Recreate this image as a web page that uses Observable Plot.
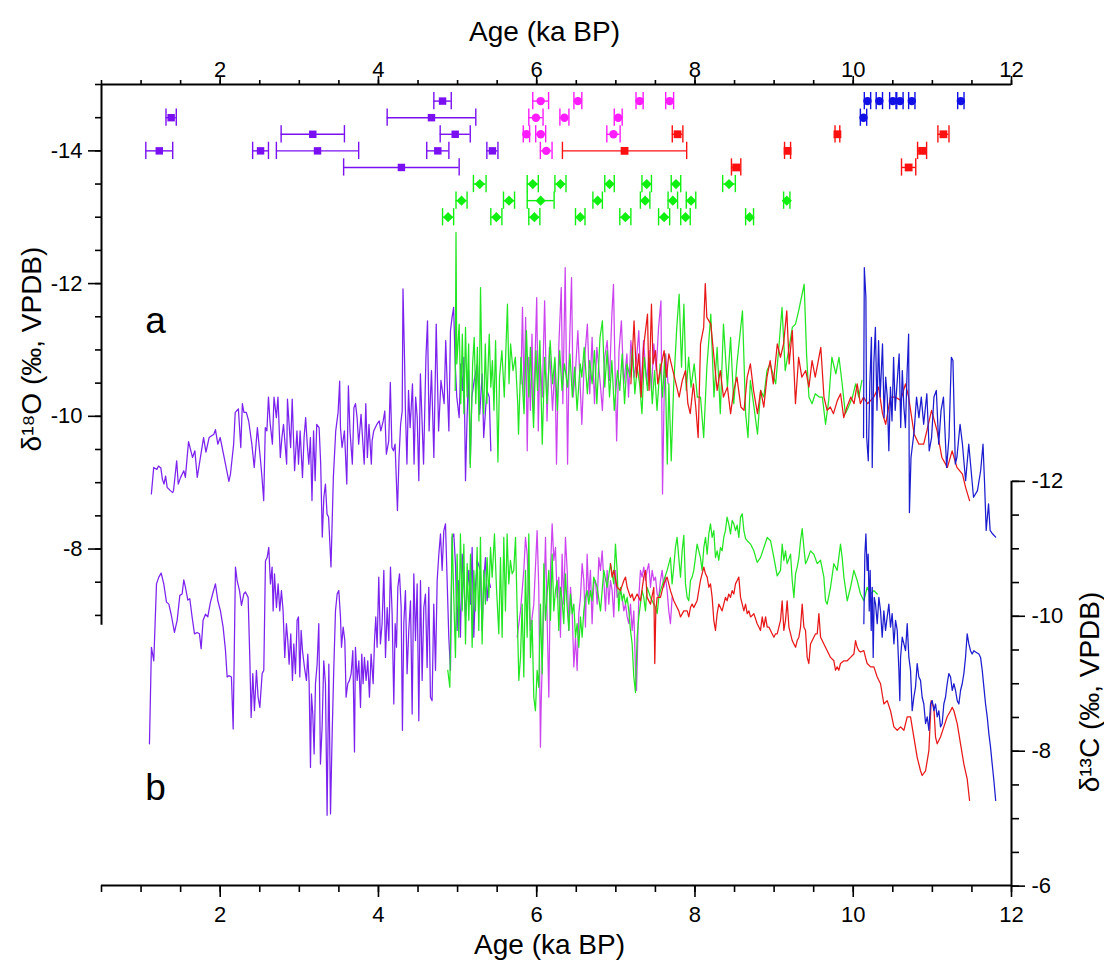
<!DOCTYPE html>
<html><head><meta charset="utf-8">
<script src="https://cdn.jsdelivr.net/npm/d3@7"></script>
<script src="https://cdn.jsdelivr.net/npm/@observablehq/plot@0.6"></script>
<style>body{margin:0;background:#fff;}</style>
</head><body><div id="chart"></div>
<script>
// ---------- tick values ----------
const X_TICKS = [2, 4, 6, 8, 10, 12];
const X_MINOR = [0.5,1,1.5,2,2.5,3,3.5,4,4.5,5,5.5,6,6.5,7,7.5,8,8.5,9,9.5,10,10.5,11,11.5,12];
const O18_TICKS = [-14, -12, -10, -8];
const O18_MINOR = [-15,-14.5,-14,-13.5,-13,-12.5,-12,-11.5,-11,-10.5,-10,-9.5,-9,-8.5,-8,-7.5,-7];
const C13_TICKS = [-12, -10, -8, -6];
const C13_MINOR = [-12,-11.5,-11,-10.5,-10,-9.5,-9,-8.5,-8,-7.5,-7,-6.5,-6];

// ---------- U-Th dates: [age ka, ±err ka, row (plotted on δ18O axis)] ----------
const datesPurple = [[4.81,0.11,-14.75],[1.38,0.065,-14.5],[4.67,0.56,-14.5],[3.17,0.40,-14.25],[4.97,0.19,-14.25],
  [1.23,0.17,-14],[2.51,0.10,-14],[3.23,0.52,-14],[4.75,0.14,-14],[5.44,0.07,-14],[4.29,0.73,-13.75]];
const datesMagenta = [[6.05,0.10,-14.75],[6.52,0.05,-14.75],[7.30,0.045,-14.75],[7.68,0.05,-14.75],
  [5.99,0.09,-14.5],[6.35,0.057,-14.5],[7.03,0.05,-14.5],[5.87,0.04,-14.25],[6.05,0.063,-14.25],[6.97,0.084,-14.25],[6.12,0.074,-14]];
const datesRed = [[7.78,0.067,-14.25],[7.11,0.785,-14],[8.52,0.059,-13.75],[9.17,0.038,-14],[9.80,0.03,-14.25],
  [11.14,0.07,-14.25],[10.87,0.057,-14],[10.70,0.09,-13.75]];
const datesBlue = [[10.18,0.04,-14.75],[10.33,0.04,-14.75],[10.50,0.04,-14.75],[10.59,0.04,-14.75],[10.74,0.04,-14.75],
  [11.36,0.04,-14.75],[10.13,0.04,-14.5]];
const datesGreen = [[5.28,0.08,-13.5],[5.95,0.07,-13.5],[6.30,0.07,-13.5],[6.92,0.06,-13.5],[7.39,0.06,-13.5],[7.76,0.06,-13.5],[8.43,0.08,-13.5],
  [5.05,0.07,-13.25],[5.65,0.07,-13.25],[6.05,0.17,-13.25],[6.77,0.06,-13.25],[7.37,0.06,-13.25],[7.72,0.06,-13.25],[7.95,0.06,-13.25],[9.16,0.04,-13.25],
  [4.88,0.07,-13],[5.49,0.07,-13],[5.97,0.07,-13],[6.55,0.06,-13],[7.12,0.07,-13],[7.61,0.07,-13],[7.88,0.06,-13],[8.69,0.05,-13]];

// ---------- δ18O records: [age ka, δ18O] ----------
const o18Purple = [[1.13,-8.83],[1.16,-9.23],[1.20,-9.20],[1.22,-9.25],[1.25,-9.22],[1.27,-9.05],[1.29,-8.98],[1.31,-9.10],[1.33,-8.93],[1.37,-8.88],[1.40,-8.85],[1.41,-8.88],[1.45,-9.33],[1.47,-8.98],[1.50,-9.08],[1.54,-9.18],[1.56,-9.08],[1.60,-9.62],[1.65,-9.38],[1.68,-9.48],[1.71,-9.08],[1.75,-9.38],[1.79,-9.68],[1.82,-9.46],[1.86,-9.68],[1.92,-9.73],[1.94,-9.80],[1.97,-9.58],[2.00,-9.68],[2.05,-9.38],[2.11,-9.02],[2.13,-9.13],[2.17,-9.58],[2.19,-10.06],[2.23,-10.11],[2.26,-9.53],[2.28,-10.19],[2.30,-10.06],[2.33,-10.06],[2.36,-9.93],[2.40,-9.58],[2.43,-9.23],[2.47,-9.83],[2.51,-9.33],[2.53,-9.05],[2.55,-8.73],[2.57,-9.83],[2.59,-9.78],[2.61,-10.29],[2.63,-9.91],[2.66,-9.58],[2.68,-10.29],[2.71,-9.98],[2.73,-10.29],[2.76,-9.38],[2.78,-9.68],[2.80,-9.88],[2.84,-9.28],[2.85,-10.26],[2.89,-9.53],[2.91,-10.26],[2.94,-9.18],[2.97,-9.78],[2.99,-9.28],[3.01,-9.78],[3.04,-9.08],[3.06,-9.68],[3.08,-9.98],[3.10,-9.58],[3.12,-9.28],[3.14,-9.68],[3.16,-8.73],[3.18,-9.78],[3.20,-9.03],[3.22,-9.88],[3.25,-9.83],[3.27,-9.28],[3.29,-8.18],[3.31,-8.78],[3.33,-8.98],[3.35,-8.53],[3.37,-8.48],[3.40,-7.73],[3.43,-9.08],[3.46,-9.78],[3.49,-10.06],[3.51,-10.53],[3.52,-9.83],[3.54,-9.53],[3.57,-9.78],[3.60,-8.98],[3.62,-10.46],[3.64,-9.78],[3.67,-9.28],[3.69,-10.13],[3.71,-10.19],[3.73,-9.98],[3.75,-9.58],[3.78,-10.03],[3.82,-9.28],[3.84,-10.19],[3.86,-9.38],[3.88,-9.88],[3.91,-9.28],[3.92,-9.63],[3.94,-9.78],[3.98,-9.88],[4.01,-9.93],[4.03,-9.78],[4.06,-9.93],[4.08,-10.08],[4.10,-9.43],[4.13,-9.63],[4.15,-10.51],[4.17,-9.53],[4.19,-9.48],[4.21,-9.58],[4.24,-8.58],[4.26,-9.38],[4.28,-9.88],[4.30,-10.08],[4.31,-11.92],[4.33,-10.84],[4.34,-10.13],[4.36,-9.28],[4.38,-10.39],[4.40,-9.83],[4.43,-10.49],[4.45,-9.28],[4.47,-10.29],[4.49,-9.98],[4.51,-9.03],[4.53,-10.64],[4.57,-9.28],[4.60,-10.89],[4.62,-11.44],[4.64,-9.78],[4.67,-10.69],[4.70,-9.38],[4.73,-11.39],[4.76,-9.78],[4.79,-10.54],[4.83,-10.19],[4.85,-11.14],[4.87,-10.44],[4.89,-9.78],[4.91,-11.29],[4.93,-11.49],[4.95,-11.64],[4.97,-10.79],[4.99,-10.29],[5.02,-9.98],[5.04,-10.79],[5.06,-10.39],[5.08,-10.89],[5.10,-9.03],[5.12,-9.98],[5.14,-10.69],[5.16,-9.28],[5.18,-10.29],[5.21,-10.54],[5.25,-10.79],[5.28,-10.03],[5.31,-10.64],[5.33,-9.68],[5.37,-10.39],[5.40,-10.29],[5.42,-9.48]];

const o18Orchid = [[5.80,-10.49],[5.82,-11.64],[5.84,-10.29],[5.86,-11.49],[5.88,-9.48],[5.90,-10.89],[5.92,-10.09],[5.94,-11.24],[5.96,-10.04],[6.00,-11.79],[6.02,-9.78],[6.04,-10.94],[6.07,-10.29],[6.10,-11.74],[6.13,-9.93],[6.16,-11.04],[6.20,-10.09],[6.23,-10.79],[6.25,-9.28],[6.28,-11.09],[6.31,-11.94],[6.33,-10.19],[6.36,-12.24],[6.39,-9.28],[6.41,-10.89],[6.44,-12.09],[6.46,-10.29],[6.49,-10.69],[6.52,-11.29],[6.55,-10.44],[6.57,-9.88],[6.60,-10.79],[6.64,-11.39],[6.67,-10.34],[6.70,-11.19],[6.73,-10.19],[6.76,-11.04],[6.80,-10.54],[6.83,-10.09],[6.86,-10.89],[6.89,-11.14],[6.92,-10.54],[6.95,-11.54],[6.97,-11.99],[6.99,-10.69],[7.01,-9.63],[7.04,-10.99],[7.07,-11.44],[7.10,-10.49],[7.14,-10.94],[7.16,-10.29],[7.19,-11.14],[7.23,-10.59],[7.26,-10.84],[7.29,-11.29],[7.32,-10.39],[7.35,-11.14],[7.39,-10.49],[7.42,-10.99],[7.45,-10.39],[7.48,-11.09],[7.51,-10.69],[7.54,-11.34],[7.57,-11.74],[7.59,-8.83],[7.61,-10.29],[7.63,-10.94],[7.66,-10.49]];

const o18Green = [[4.97,-10.39],[4.98,-12.77],[4.99,-10.79],[5.02,-11.39],[5.04,-10.19],[5.06,-11.24],[5.08,-10.04],[5.10,-11.34],[5.12,-10.29],[5.14,-11.09],[5.16,-9.23],[5.19,-10.79],[5.21,-11.19],[5.23,-10.19],[5.25,-11.04],[5.27,-9.93],[5.29,-11.94],[5.31,-10.49],[5.33,-10.04],[5.35,-11.09],[5.37,-10.19],[5.40,-11.24],[5.42,-10.44],[5.44,-10.84],[5.46,-10.09],[5.48,-11.14],[5.51,-9.31],[5.53,-10.59],[5.56,-10.99],[5.59,-10.29],[5.63,-11.69],[5.65,-10.49],[5.67,-11.09],[5.70,-10.69],[5.73,-10.89],[5.76,-10.19],[5.77,-9.73],[5.80,-10.89],[5.84,-10.04],[5.87,-11.29],[5.90,-10.29],[5.92,-11.04],[5.96,-9.83],[5.99,-10.99],[6.01,-10.39],[6.04,-11.14],[6.07,-9.58],[6.10,-10.89],[6.13,-10.19],[6.17,-11.14],[6.20,-10.49],[6.23,-10.89],[6.26,-10.09],[6.29,-10.99],[6.32,-10.39],[6.35,-10.79],[6.39,-10.44],[6.42,-10.94],[6.45,-10.29],[6.48,-10.74],[6.51,-10.09],[6.55,-10.79],[6.57,-10.59],[6.60,-11.04],[6.64,-10.34],[6.67,-10.84],[6.70,-10.49],[6.73,-10.99],[6.76,-10.19],[6.80,-11.19],[6.83,-11.44],[6.86,-10.44],[6.89,-10.99],[6.92,-10.29],[6.95,-10.84],[6.98,-10.09],[7.02,-10.69],[7.05,-10.39],[7.08,-10.94],[7.11,-10.19],[7.14,-10.79],[7.18,-10.59],[7.21,-11.04],[7.24,-10.34],[7.27,-10.74],[7.30,-10.49],[7.33,-10.04],[7.36,-10.89],[7.40,-10.39],[7.43,-10.89],[7.46,-10.19],[7.49,-10.69],[7.52,-10.09],[7.56,-10.79],[7.59,-10.29],[7.62,-10.94],[7.65,-9.28],[7.67,-10.49],[7.70,-9.33],[7.73,-10.44],[7.77,-11.34],[7.80,-11.84],[7.83,-10.74],[7.86,-11.69],[7.89,-10.39],[7.92,-10.89],[7.95,-10.44],[7.99,-10.79],[8.03,-10.29],[8.07,-10.29],[8.11,-9.68],[8.15,-10.74],[8.20,-11.54],[8.24,-10.29],[8.28,-11.04],[8.32,-10.04],[8.36,-11.39],[8.41,-10.44],[8.45,-11.19],[8.49,-10.19],[8.53,-10.79],[8.60,-11.59],[8.64,-10.04],[8.67,-9.68],[8.70,-10.54],[8.74,-10.19],[8.79,-9.73],[8.83,-10.39],[8.87,-10.29],[8.91,-10.69],[8.95,-10.79],[9.02,-10.49],[9.06,-11.04],[9.10,-11.64],[9.14,-10.69],[9.19,-11.04],[9.23,-11.34],[9.27,-11.39],[9.31,-11.59],[9.38,-11.99],[9.41,-10.94],[9.44,-10.29],[9.48,-10.19],[9.52,-10.34],[9.57,-10.29],[9.61,-10.29],[9.65,-9.88],[9.69,-10.24],[9.73,-10.89],[9.78,-10.64],[9.82,-10.89],[9.86,-10.49],[9.90,-10.04],[9.94,-10.14],[9.99,-10.29],[10.03,-10.49],[10.07,-10.29],[10.11,-10.54]];

const o18Red = [[7.19,-10.49],[7.23,-11.44],[7.26,-10.59],[7.29,-10.94],[7.32,-10.29],[7.35,-11.04],[7.40,-11.54],[7.42,-10.39],[7.45,-11.69],[7.47,-10.79],[7.50,-10.99],[7.53,-10.49],[7.56,-10.69],[7.61,-10.99],[7.64,-10.59],[7.67,-10.94],[7.71,-10.74],[7.75,-10.54],[7.80,-10.29],[7.84,-10.54],[7.88,-10.69],[7.91,-10.19],[7.94,-10.04],[7.98,-10.49],[8.01,-10.14],[8.04,-9.68],[8.07,-11.09],[8.11,-11.34],[8.13,-12.0],[8.15,-11.49],[8.20,-11.39],[8.24,-10.89],[8.28,-10.39],[8.32,-10.69],[8.36,-10.29],[8.41,-10.44],[8.45,-10.04],[8.49,-10.39],[8.53,-10.59],[8.58,-10.14],[8.62,-10.09],[8.66,-10.59],[8.70,-10.79],[8.74,-10.39],[8.79,-10.04],[8.83,-10.39],[8.87,-10.14],[8.91,-10.59],[8.95,-10.84],[8.99,-10.49],[9.04,-11.09],[9.08,-10.89],[9.12,-11.09],[9.16,-11.59],[9.19,-10.79],[9.23,-11.29],[9.27,-10.19],[9.31,-10.89],[9.35,-10.59],[9.40,-10.69],[9.44,-10.44],[9.48,-10.84],[9.52,-10.59],[9.59,-11.04],[9.63,-10.29],[9.67,-10.09],[9.71,-10.14],[9.75,-10.04],[9.80,-10.24],[9.84,-10.34],[9.88,-9.98],[9.92,-10.14],[9.97,-10.29],[10.01,-10.19],[10.05,-10.49],[10.09,-10.19],[10.13,-10.29],[10.18,-10.19],[10.26,-10.29],[10.32,-10.44],[10.37,-10.04],[10.41,-9.88],[10.47,-10.29],[10.53,-10.29],[10.60,-10.24],[10.66,-10.49],[10.70,-10.29],[10.77,-9.73],[10.83,-9.58],[10.89,-9.58],[10.93,-9.78],[10.99,-10.09],[11.06,-9.78],[11.12,-9.38],[11.19,-9.23],[11.25,-9.48],[11.31,-9.23],[11.38,-9.13],[11.42,-8.93],[11.47,-8.73]];

const o18Blue = [[10.13,-9.68],[10.14,-12.24],[10.16,-11.79],[10.17,-9.68],[10.19,-9.33],[10.21,-10.49],[10.23,-11.19],[10.24,-9.23],[10.26,-10.79],[10.28,-11.34],[10.30,-10.09],[10.32,-11.14],[10.34,-10.29],[10.37,-11.09],[10.39,-9.98],[10.41,-10.59],[10.43,-10.29],[10.45,-9.48],[10.47,-10.44],[10.49,-9.93],[10.51,-10.89],[10.53,-10.09],[10.58,-10.94],[10.60,-9.83],[10.62,-10.69],[10.64,-10.14],[10.66,-9.83],[10.68,-10.64],[10.70,-11.24],[10.71,-8.55],[10.73,-9.38],[10.77,-9.78],[10.80,-10.29],[10.83,-9.98],[10.86,-10.29],[10.89,-9.88],[10.93,-10.34],[10.96,-9.48],[10.99,-9.68],[11.02,-10.29],[11.05,-10.39],[11.08,-9.58],[11.11,-10.09],[11.14,-10.29],[11.18,-9.23],[11.21,-9.68],[11.24,-10.89],[11.26,-10.84],[11.29,-9.28],[11.31,-9.38],[11.35,-9.88],[11.38,-9.58],[11.42,-9.03],[11.46,-9.58],[11.52,-8.78],[11.57,-8.88],[11.61,-9.18],[11.64,-9.58],[11.66,-8.98],[11.68,-8.28],[11.71,-8.68],[11.73,-8.28],[11.76,-8.23],[11.80,-8.18]];

// ---------- δ13C records: [age ka, δ13C] ----------
const c13Purple = [[1.106,-8.11],[1.131,-9.54],[1.161,-9.34],[1.195,-10.48],[1.224,-10.58],[1.254,-10.64],[1.287,-10.48],[1.321,-10.21],[1.351,-10.18],[1.380,-10.03],[1.422,-9.76],[1.456,-9.94],[1.490,-10.31],[1.519,-10.33],[1.540,-10.54],[1.561,-10.43],[1.591,-10.24],[1.616,-10.26],[1.645,-9.99],[1.675,-9.74],[1.709,-9.76],[1.738,-9.74],[1.759,-9.52],[1.784,-9.94],[1.814,-10.03],[1.843,-9.99],[1.877,-10.21],[1.911,-10.36],[1.940,-10.48],[1.970,-10.23],[2.003,-10.08],[2.037,-9.84],[2.067,-9.49],[2.088,-9.10],[2.109,-9.12],[2.142,-9.10],[2.164,-8.33],[2.193,-10.73],[2.214,-10.53],[2.244,-10.38],[2.269,-10.16],[2.298,-10.33],[2.319,-10.36],[2.353,-10.28],[2.374,-9.39],[2.391,-8.50],[2.412,-9.15],[2.433,-8.60],[2.458,-9.20],[2.479,-8.80],[2.501,-8.65],[2.530,-9.15],[2.551,-9.20],[2.572,-10.82],[2.593,-10.87],[2.614,-11.02],[2.635,-10.48],[2.656,-10.73],[2.669,-10.08],[2.686,-10.63],[2.711,-10.13],[2.732,-10.48],[2.753,-10.08],[2.774,-10.38],[2.795,-10.08],[2.816,-9.39],[2.837,-9.89],[2.854,-9.64],[2.871,-9.29],[2.892,-9.74],[2.913,-9.05],[2.930,-9.59],[2.951,-9.15],[2.972,-9.94],[2.989,-9.99],[3.006,-9.10],[3.023,-9.79],[3.040,-9.49],[3.065,-9.24],[3.090,-9.05],[3.107,-9.44],[3.124,-9.00],[3.141,-7.76],[3.153,-8.85],[3.170,-8.55],[3.187,-7.96],[3.204,-9.00],[3.225,-9.29],[3.246,-9.89],[3.267,-7.81],[3.288,-8.36],[3.309,-9.34],[3.330,-9.00],[3.351,-7.05],[3.373,-9.29],[3.394,-7.07],[3.415,-8.26],[3.436,-9.24],[3.457,-10.08],[3.478,-10.33],[3.499,-10.38],[3.520,-9.99],[3.533,-9.54],[3.554,-9.84],[3.575,-9.64],[3.591,-8.80],[3.612,-9.00],[3.634,-9.05],[3.655,-9.15],[3.676,-9.49],[3.697,-7.99],[3.709,-9.54],[3.731,-9.05],[3.752,-9.34],[3.773,-8.65],[3.789,-9.44],[3.806,-9.00],[3.823,-9.39],[3.844,-9.05],[3.865,-9.34],[3.886,-8.80],[3.907,-9.44],[3.933,-9.00],[3.950,-9.64],[3.966,-9.99],[3.983,-9.54],[4.004,-10.58],[4.025,-9.59],[4.046,-9.89],[4.068,-10.68],[4.089,-9.39],[4.110,-10.13],[4.131,-9.64],[4.152,-10.73],[4.173,-10.03],[4.194,-8.70],[4.211,-9.89],[4.228,-9.54],[4.245,-10.43],[4.266,-10.63],[4.287,-10.13],[4.303,-8.31],[4.320,-9.89],[4.341,-10.38],[4.362,-9.15],[4.383,-9.79],[4.405,-10.23],[4.426,-8.55],[4.447,-10.63],[4.468,-9.64],[4.489,-10.48],[4.510,-8.45],[4.531,-10.53],[4.552,-9.05],[4.573,-10.13],[4.594,-10.33],[4.615,-9.24],[4.636,-10.43],[4.657,-8.80],[4.678,-8.75],[4.699,-10.18],[4.721,-9.20],[4.742,-10.53],[4.763,-10.92],[4.784,-11.22],[4.805,-10.68],[4.826,-11.27],[4.847,-11.37],[4.868,-10.53],[4.889,-9.69],[4.910,-9.20],[4.931,-11.17],[4.952,-11.22],[4.973,-10.78],[4.994,-9.79],[5.015,-10.53],[5.036,-9.69],[5.058,-10.92],[5.079,-10.48],[5.100,-9.99],[5.121,-10.38],[5.142,-10.68],[5.163,-10.18],[5.184,-11.02],[5.205,-9.69],[5.226,-10.43],[5.247,-10.83],[5.289,-10.68],[5.310,-9.79],[5.331,-10.53],[5.352,-10.87],[5.373,-10.23],[5.395,-10.53],[5.416,-10.43]];

const c13Orchid = [[5.753,-9.69],[5.795,-10.08],[5.837,-10.68],[5.858,-11.17],[5.879,-10.92],[5.900,-10.33],[5.921,-9.79],[5.963,-10.18],[6.005,-11.27],[6.026,-10.43],[6.047,-8.06],[6.056,-8.70],[6.090,-10.18],[6.111,-11.17],[6.132,-9.94],[6.153,-8.80],[6.174,-10.68],[6.195,-11.37],[6.216,-10.83],[6.237,-11.02],[6.258,-10.28],[6.279,-10.58],[6.300,-9.69],[6.321,-10.92],[6.342,-10.18],[6.363,-11.17],[6.385,-10.68],[6.406,-9.79],[6.427,-10.43],[6.448,-10.08],[6.469,-9.25],[6.490,-9.69],[6.511,-9.20],[6.532,-10.04],[6.553,-10.28],[6.574,-10.78],[6.595,-10.53],[6.616,-9.84],[6.637,-10.92],[6.658,-10.28],[6.679,-10.68],[6.700,-9.89],[6.721,-10.48],[6.742,-10.53],[6.764,-10.18],[6.785,-10.87],[6.806,-10.68],[6.827,-10.97],[6.848,-10.53],[6.869,-10.08],[6.890,-10.68],[6.911,-10.18],[6.932,-10.53],[6.953,-10.38],[6.974,-9.99],[6.995,-10.68],[7.016,-10.28],[7.058,-10.38],[7.080,-10.28],[7.101,-10.08],[7.122,-10.18],[7.143,-9.99],[7.164,-9.89],[7.185,-10.18],[7.206,-9.79],[7.227,-10.08],[7.248,-9.20],[7.261,-8.90],[7.278,-9.69],[7.290,-10.28],[7.311,-10.68],[7.332,-10.58],[7.353,-10.73],[7.374,-10.53],[7.395,-10.68],[7.416,-10.78],[7.438,-10.43],[7.459,-10.68],[7.480,-10.53],[7.501,-10.58],[7.522,-10.33],[7.543,-10.28],[7.564,-10.53],[7.585,-10.68],[7.606,-10.43],[7.627,-10.58],[7.648,-10.38],[7.669,-10.08],[7.690,-9.89],[7.711,-10.28]];

const c13Green = [[4.876,-9.20],[4.902,-8.95],[4.931,-11.22],[4.952,-10.28],[4.973,-9.39],[4.994,-10.92],[5.015,-9.69],[5.036,-11.22],[5.058,-10.08],[5.079,-11.07],[5.100,-9.59],[5.121,-10.78],[5.142,-9.94],[5.163,-10.92],[5.184,-9.54],[5.205,-10.68],[5.226,-10.08],[5.247,-11.02],[5.268,-9.79],[5.289,-11.17],[5.310,-9.59],[5.331,-10.68],[5.352,-10.18],[5.373,-10.87],[5.395,-10.28],[5.416,-11.02],[5.437,-10.58],[5.466,-11.22],[5.491,-10.43],[5.521,-9.74],[5.542,-10.87],[5.563,-9.69],[5.584,-11.17],[5.605,-10.08],[5.626,-11.22],[5.647,-10.48],[5.668,-10.83],[5.689,-10.63],[5.710,-10.68],[5.732,-11.17],[5.753,-10.08],[5.774,-9.05],[5.795,-9.39],[5.816,-10.18],[5.837,-9.10],[5.858,-10.68],[5.879,-9.69],[5.900,-11.22],[5.921,-9.39],[5.942,-9.94],[5.963,-8.80],[5.984,-8.60],[6.005,-9.20],[6.026,-8.95],[6.047,-10.18],[6.069,-9.15],[6.090,-10.78],[6.111,-9.94],[6.132,-10.33],[6.153,-10.68],[6.174,-9.94],[6.195,-10.92],[6.216,-10.08],[6.237,-10.38],[6.258,-10.53],[6.279,-9.79],[6.300,-10.43],[6.321,-10.23],[6.342,-9.89],[6.363,-10.63],[6.385,-10.13],[6.406,-9.79],[6.427,-10.33],[6.448,-10.04],[6.469,-10.18],[6.490,-9.69],[6.511,-9.89],[6.532,-9.54],[6.553,-9.99],[6.574,-9.69],[6.595,-10.08],[6.616,-10.28],[6.637,-10.38],[6.658,-10.18],[6.679,-10.38],[6.700,-10.23],[6.721,-10.58],[6.764,-10.43],[6.806,-10.08],[6.848,-10.68],[6.890,-10.43],[6.932,-10.78],[6.974,-10.48],[6.995,-11.07],[7.016,-10.68],[7.037,-10.08],[7.058,-10.43],[7.080,-10.23],[7.101,-10.33],[7.122,-10.18],[7.143,-10.28],[7.164,-10.08],[7.185,-9.79],[7.206,-9.59],[7.227,-9.10],[7.248,-8.87],[7.269,-9.69],[7.290,-9.99],[7.311,-10.18],[7.332,-10.38],[7.353,-10.28],[7.374,-10.08],[7.395,-10.43],[7.438,-10.28],[7.480,-10.18],[7.501,-10.13],[7.522,-10.04],[7.543,-10.28],[7.564,-10.38],[7.606,-10.53],[7.648,-10.68],[7.690,-10.87],[7.711,-10.48],[7.732,-10.73],[7.753,-11.02],[7.774,-11.17],[7.795,-10.87],[7.817,-10.58],[7.838,-10.97],[7.859,-11.20],[7.880,-10.48],[7.901,-10.28],[7.922,-10.23],[7.943,-10.53],[7.964,-10.58],[7.985,-10.68],[8.006,-10.87],[8.027,-11.07],[8.048,-10.97],[8.069,-10.87],[8.090,-10.68],[8.112,-11.02],[8.133,-11.17],[8.154,-10.92],[8.175,-11.22],[8.196,-11.37],[8.217,-11.17],[8.238,-11.27],[8.259,-10.87],[8.280,-10.97],[8.301,-10.83],[8.322,-11.02],[8.343,-10.97],[8.364,-11.17],[8.385,-11.27],[8.406,-11.47],[8.427,-11.37],[8.449,-11.22],[8.470,-11.42],[8.491,-11.37],[8.512,-11.27],[8.533,-11.35],[8.554,-11.17],[8.576,-11.47],[8.597,-11.52],[8.618,-11.27],[8.639,-11.15],[8.660,-11.12],[8.702,-11.07],[8.744,-10.97],[8.786,-10.80],[8.828,-10.87],[8.871,-11.02],[8.913,-11.17],[8.955,-11.12],[8.997,-10.87],[9.039,-10.60],[9.081,-10.68],[9.102,-11.07],[9.123,-10.83],[9.144,-10.97],[9.165,-10.78],[9.208,-10.92],[9.229,-10.53],[9.250,-10.28],[9.271,-10.63],[9.292,-10.73],[9.313,-10.87],[9.334,-11.12],[9.355,-11.30],[9.376,-11.02],[9.397,-10.78],[9.418,-10.83],[9.460,-10.97],[9.502,-10.92],[9.545,-10.78],[9.587,-10.83],[9.629,-10.58],[9.650,-10.23],[9.671,-10.18],[9.713,-10.43],[9.755,-10.78],[9.797,-10.68],[9.839,-11.07],[9.860,-10.87],[9.882,-10.58],[9.924,-10.23],[9.966,-10.43],[10.008,-10.68],[10.050,-10.53],[10.092,-10.33],[10.134,-10.23],[10.176,-10.43],[10.219,-10.33],[10.261,-10.38],[10.303,-10.33]];

const c13Red = [[6.932,-10.78],[6.953,-10.58],[6.974,-10.68],[7.016,-10.43],[7.058,-10.38],[7.101,-10.53],[7.122,-10.58],[7.143,-10.43],[7.185,-10.28],[7.206,-10.33],[7.227,-10.23],[7.269,-10.33],[7.311,-10.23],[7.353,-10.58],[7.374,-10.68],[7.395,-10.28],[7.438,-10.18],[7.480,-10.43],[7.492,-9.30],[7.505,-10.08],[7.522,-10.28],[7.564,-10.28],[7.606,-10.48],[7.627,-10.53],[7.648,-10.58],[7.690,-10.38],[7.732,-10.23],[7.774,-10.13],[7.795,-10.08],[7.817,-9.99],[7.859,-10.08],[7.901,-10.08],[7.922,-9.99],[7.943,-10.13],[7.964,-10.18],[7.985,-10.13],[8.006,-10.18],[8.027,-10.23],[8.048,-10.38],[8.069,-10.53],[8.090,-10.63],[8.112,-10.73],[8.133,-10.63],[8.154,-10.58],[8.175,-10.43],[8.196,-10.48],[8.217,-10.28],[8.238,-9.94],[8.259,-9.79],[8.280,-10.04],[8.301,-10.18],[8.322,-10.13],[8.343,-10.08],[8.364,-10.18],[8.385,-10.28],[8.406,-10.23],[8.427,-10.33],[8.449,-10.28],[8.470,-10.38],[8.491,-10.33],[8.512,-10.48],[8.533,-10.53],[8.554,-10.58],[8.576,-10.28],[8.597,-10.18],[8.618,-10.08],[8.639,-10.18],[8.660,-10.04],[8.681,-10.08],[8.702,-9.99],[8.723,-10.01],[8.744,-10.04],[8.786,-9.89],[8.807,-9.84],[8.828,-9.79],[8.850,-9.99],[8.871,-9.84],[8.892,-9.99],[8.913,-9.84],[8.934,-9.84],[8.955,-9.79],[8.997,-9.69],[9.018,-9.74],[9.039,-9.74],[9.060,-9.84],[9.081,-9.94],[9.102,-10.23],[9.123,-9.79],[9.144,-9.94],[9.165,-10.23],[9.187,-9.84],[9.208,-9.74],[9.229,-9.64],[9.250,-9.59],[9.271,-9.54],[9.292,-9.64],[9.313,-9.69],[9.334,-9.84],[9.355,-10.18],[9.376,-9.84],[9.397,-9.79],[9.418,-9.39],[9.439,-9.30],[9.460,-9.59],[9.502,-9.69],[9.524,-9.74],[9.545,-9.74],[9.566,-10.04],[9.587,-9.69],[9.608,-9.64],[9.629,-9.59],[9.671,-9.49],[9.713,-9.39],[9.755,-9.34],[9.776,-9.20],[9.797,-9.25],[9.818,-9.20],[9.839,-9.30],[9.882,-9.34],[9.924,-9.34],[9.966,-9.39],[10.008,-9.44],[10.029,-9.64],[10.050,-9.54],[10.071,-9.49],[10.092,-9.47],[10.134,-9.49],[10.155,-9.39],[10.176,-9.30],[10.219,-9.25],[10.261,-9.25],[10.303,-9.10],[10.345,-9.00],[10.387,-8.70],[10.429,-8.75],[10.471,-8.60],[10.514,-8.36],[10.556,-8.31],[10.598,-8.36],[10.640,-8.31],[10.682,-8.51],[10.724,-8.51],[10.766,-8.21],[10.808,-7.91],[10.850,-7.71],[10.871,-7.64],[10.914,-7.71],[10.956,-8.01],[10.985,-8.75],[11.019,-8.65],[11.040,-8.21],[11.061,-8.11],[11.103,-8.21],[11.145,-8.36],[11.187,-8.51],[11.230,-8.60],[11.251,-8.65],[11.272,-8.60],[11.314,-8.41],[11.356,-8.11],[11.398,-7.81],[11.440,-7.59],[11.470,-7.27]];

const c13Blue = [[10.134,-9.89],[10.147,-10.92],[10.160,-11.22],[10.176,-10.68],[10.189,-10.92],[10.202,-10.08],[10.214,-10.68],[10.227,-9.79],[10.240,-10.43],[10.252,-9.39],[10.265,-10.28],[10.282,-10.18],[10.303,-9.89],[10.324,-10.28],[10.345,-10.08],[10.366,-9.69],[10.387,-10.08],[10.408,-9.79],[10.429,-9.99],[10.450,-10.18],[10.471,-9.84],[10.492,-10.04],[10.514,-9.59],[10.535,-9.94],[10.556,-9.79],[10.577,-9.20],[10.589,-8.75],[10.598,-9.39],[10.619,-9.69],[10.640,-9.59],[10.661,-9.49],[10.682,-9.89],[10.703,-9.39],[10.724,-9.20],[10.745,-8.60],[10.766,-8.80],[10.787,-8.95],[10.808,-9.30],[10.829,-9.10],[10.850,-9.05],[10.871,-8.80],[10.892,-8.70],[10.914,-8.41],[10.935,-8.51],[10.956,-8.31],[10.977,-8.70],[10.998,-8.75],[11.019,-8.60],[11.040,-8.70],[11.061,-8.51],[11.082,-8.60],[11.103,-8.36],[11.124,-8.41],[11.145,-8.70],[11.166,-8.80],[11.187,-9.00],[11.208,-9.15],[11.230,-9.10],[11.251,-8.90],[11.272,-9.00],[11.293,-8.90],[11.314,-8.75],[11.335,-8.70],[11.356,-8.90],[11.377,-9.00],[11.398,-9.15],[11.419,-9.39],[11.440,-9.74],[11.461,-9.59],[11.482,-9.49],[11.503,-9.44],[11.524,-9.49],[11.546,-9.47],[11.588,-9.44],[11.609,-9.39],[11.630,-9.20],[11.651,-8.95],[11.672,-8.70],[11.693,-8.51],[11.714,-8.26],[11.735,-8.06],[11.756,-7.81],[11.777,-7.57],[11.800,-7.27]];

// ---------- colours ----------
const COL = {purple: "#7b22ee", orchid: "#cc44ee", green: "#22e622", red: "#e81818", blue: "#1c1cd0"};
const DCOL = {purple: "#7a10f2", magenta: "#ff1cff", red: "#ff1010", blue: "#1010e6", green: "#10f010"};

// δ13C values are drawn on the shared vertical scale through this linear map (right-hand axis)
const toY = c => -9.02 + 1.0166 * (c + 12);
const fromY = v => (v + 9.02) / 1.0166 - 12;

function seriesO(data, color) {
  return Plot.line(data, {x: d => d[0], y: d => d[1], stroke: color, strokeWidth: 1.25});
}
function seriesC(data, color) {
  return Plot.line(data, {x: d => d[0], y: d => toY(d[1]), stroke: color, strokeWidth: 1.25});
}
function dates(data, color, symbol, r) {
  const cap = 0.13;
  return [
    Plot.ruleY(data, {y: d => d[2], x1: d => d[0] - d[1], x2: d => d[0] + d[1], stroke: color, strokeWidth: 1.4}),
    Plot.ruleX(data, {x: d => d[0] - d[1], y1: d => d[2] - cap, y2: d => d[2] + cap, stroke: color, strokeWidth: 1.4}),
    Plot.ruleX(data, {x: d => d[0] + d[1], y1: d => d[2] - cap, y2: d => d[2] + cap, stroke: color, strokeWidth: 1.4}),
    Plot.dot(data, {x: d => d[0], y: d => d[2], symbol, r, fill: color, stroke: "none"})
  ];
}
const blank = () => "";
const lbl = (s, o) => Plot.text([s], {text: d => d, textAnchor: "middle", lineAnchor: "middle", ...o});

const chart = Plot.plot({
  width: 1104, height: 960,
  marginLeft: 101, marginRight: 93, marginTop: 84, marginBottom: 75,
  style: {fontFamily: "'Liberation Sans', Arial, sans-serif", fontSize: "22px", background: "#fff", color: "#000", overflow: "visible"},
  x: {domain: [0.5, 12]},
  y: {domain: [-15, -2.93], reverse: true},
  marks: [
    seriesO(o18Purple, COL.purple),
    seriesO(o18Orchid, COL.orchid),
    seriesO(o18Green, COL.green),
    seriesO(o18Red, COL.red),
    seriesO(o18Blue, COL.blue),
    seriesC(c13Purple, COL.purple),
    seriesC(c13Orchid, COL.orchid),
    seriesC(c13Green, COL.green),
    seriesC(c13Red, COL.red),
    seriesC(c13Blue, COL.blue),
    ...dates(datesPurple, DCOL.purple, "square", 4.2),
    ...dates(datesMagenta, DCOL.magenta, "circle", 4.2),
    ...dates(datesRed, DCOL.red, "square", 4.4),
    ...dates(datesBlue, DCOL.blue, "circle", 4.2),
    ...dates(datesGreen, DCOL.green, "diamond2", 4.6),
    Plot.ruleY([-15], {stroke: "#000", strokeWidth: 2}),
    Plot.ruleY([-2.93], {stroke: "#000", strokeWidth: 2}),
    Plot.ruleX([0.5], {y1: -15, y2: -6.85, stroke: "#000", strokeWidth: 2}),
    Plot.ruleX([12], {y1: toY(-12), y2: toY(-6), stroke: "#000", strokeWidth: 2}),
    Plot.axisX({anchor: "top", ticks: X_TICKS, tickSize: 9, tickPadding: -1, tickFormat: d => String(d), label: null, fontSize: 22, strokeWidth: 1.6}),
    Plot.axisX({anchor: "top", ticks: X_MINOR, tickSize: 5, tickFormat: blank, label: null, strokeWidth: 1.6}),
    Plot.axisX({anchor: "bottom", ticks: X_TICKS, tickSize: 12, tickPadding: 9, tickFormat: d => String(d), label: null, fontSize: 22, strokeWidth: 1.6}),
    Plot.axisX({anchor: "bottom", ticks: X_MINOR, tickSize: 7, tickFormat: blank, label: null, strokeWidth: 1.6}),
    Plot.axisY({anchor: "left", ticks: O18_TICKS, tickSize: 13, tickPadding: 6, tickFormat: d => String(d), label: null, fontSize: 22, strokeWidth: 1.6}),
    Plot.axisY({anchor: "left", ticks: O18_MINOR, tickSize: 6, tickFormat: blank, label: null, strokeWidth: 1.6}),
    Plot.axisY({anchor: "right", ticks: C13_TICKS.map(toY), tickSize: 13, tickPadding: 7, tickFormat: v => String(Math.round(fromY(v))), label: null, fontSize: 22, strokeWidth: 1.6}),
    Plot.axisY({anchor: "right", ticks: C13_MINOR.map(toY), tickSize: 7, tickFormat: blank, label: null, strokeWidth: 1.6}),
    lbl("Age (ka BP)", {frameAnchor: "top", dx: -12, dy: -52, fontSize: 28}),
    lbl("Age (ka BP)", {frameAnchor: "bottom", dx: -7, dy: 60, fontSize: 28}),
    lbl("δ¹⁸O (‰, VPDB)", {frameAnchor: "left", rotate: -90, dx: -69, dy: -136, fontSize: 28}),
    lbl("δ¹³C (‰, VPDB)", {frameAnchor: "right", rotate: -90, dx: 79, dy: 207, fontSize: 28}),
    lbl("a", {frameAnchor: "top-left", dx: 54, dy: 237, fontSize: 37}),
    lbl("b", {frameAnchor: "top-left", dx: 54, dy: 704, fontSize: 37})
  ]
});
document.getElementById("chart").appendChild(chart);
</script></body></html>
